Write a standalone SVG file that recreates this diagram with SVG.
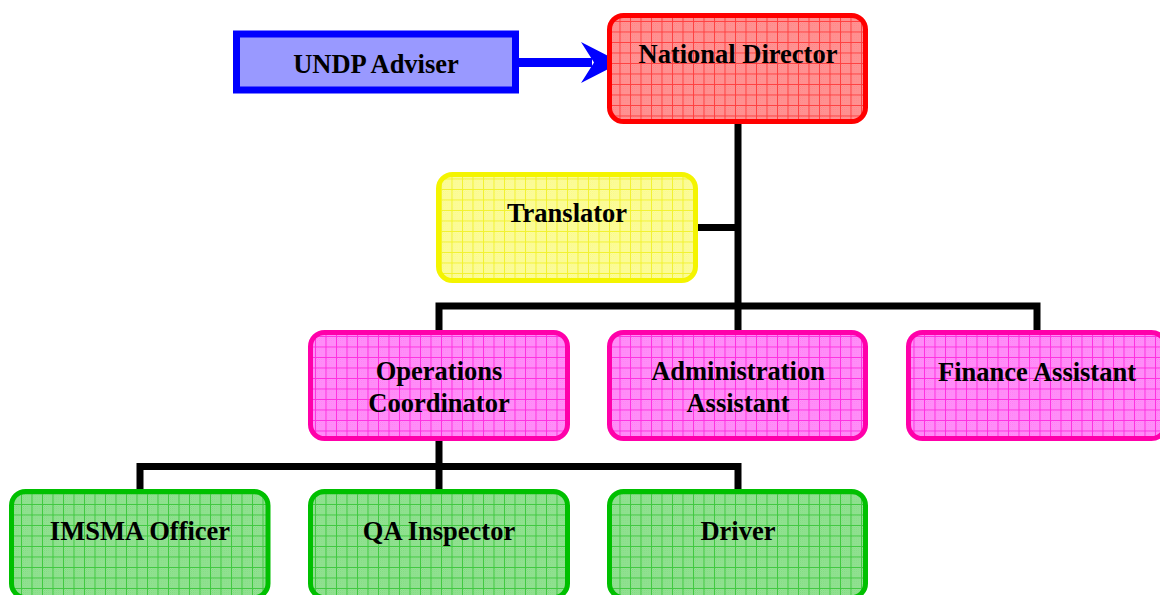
<svg xmlns="http://www.w3.org/2000/svg" width="1160" height="595" viewBox="0 0 1160 595">
<style>
.box{stroke-width:5}
.t{font-family:"Liberation Serif","Times New Roman",serif;font-weight:bold;font-size:26.5px;fill:#000;text-anchor:middle}
.c{stroke:#000;stroke-width:7;fill:none;stroke-linecap:square}
</style>
<defs>
<pattern id="dr" width="2" height="2" patternUnits="userSpaceOnUse"><rect width="2" height="2" fill="#ffa8a8"/><rect width="1" height="1" fill="#ff7878"/><rect x="1" y="1" width="1" height="1" fill="#ff7878"/></pattern>
<pattern id="dy" width="2" height="2" patternUnits="userSpaceOnUse"><rect width="2" height="2" fill="#ffffb4"/><rect width="1" height="1" fill="#f8f878"/><rect x="1" y="1" width="1" height="1" fill="#f8f878"/></pattern>
<pattern id="dm" width="2" height="2" patternUnits="userSpaceOnUse"><rect width="2" height="2" fill="#ffa8ff"/><rect width="1" height="1" fill="#ff70f0"/><rect x="1" y="1" width="1" height="1" fill="#ff70f0"/></pattern>
<pattern id="dg" width="2" height="2" patternUnits="userSpaceOnUse"><rect width="2" height="2" fill="#acecac"/><rect width="1" height="1" fill="#70d470"/><rect x="1" y="1" width="1" height="1" fill="#70d470"/></pattern>
<pattern id="pr" width="10.5" height="10.5" patternUnits="userSpaceOnUse"><rect width="10.5" height="10.5" fill="url(#dr)"/><path d="M0 0.5H10.5M0.5 0V10.5" stroke="#ff4040" stroke-width="1"/></pattern>
<pattern id="py" width="10.5" height="10.5" patternUnits="userSpaceOnUse"><rect width="10.5" height="10.5" fill="url(#dy)"/><path d="M0 0.5H10.5M0.5 0V10.5" stroke="#f2f230" stroke-width="1"/></pattern>
<pattern id="pm" width="10.5" height="10.5" patternUnits="userSpaceOnUse"><rect width="10.5" height="10.5" fill="url(#dm)"/><path d="M0 0.5H10.5M0.5 0V10.5" stroke="#ff30e0" stroke-width="1"/></pattern>
<pattern id="pg" width="10.5" height="10.5" patternUnits="userSpaceOnUse"><rect width="10.5" height="10.5" fill="url(#dg)"/><path d="M0 0.5H10.5M0.5 0V10.5" stroke="#40c840" stroke-width="1"/></pattern>
</defs>

<g id="connectors">
<path class="c" d="M738 124V306M698 227.5H738M439 306H1037M439 306V330M738 306V330M1037 306V330"/>
<path class="c" d="M439 441V466.5M140 466.5H738M140 466.5V489M439 466.5V489M738 466.5V489"/>
<path d="M519 62.5H592" stroke="#0000ff" stroke-width="9" fill="none"/>
<polygon points="621,62.5 581,42 594,62.5 581,83" fill="#0000ff"/>
</g>

<g id="undp-adviser">
<rect x="236.5" y="34" width="279" height="56" fill="#9999ff" stroke="#0000ff" stroke-width="7"/>
<text class="t" x="376" y="73.3">UNDP Adviser</text>
</g>

<g id="national-director">
<rect class="box" x="609.5" y="15.5" width="256" height="106" rx="14" fill="url(#pr)" stroke="#ff0000"/>
<text class="t" x="738" y="62.7">National Director</text>
</g>

<g id="translator">
<rect class="box" x="438.5" y="174.5" width="257" height="106" rx="14" fill="url(#py)" stroke="#f4f400"/>
<text class="t" x="567" y="221.7">Translator</text>
</g>

<g id="operations-coordinator">
<rect class="box" x="310.5" y="332.5" width="257" height="106" rx="14" fill="url(#pm)" stroke="#ff00aa"/>
<text class="t" x="439" y="380">Operations</text>
<text class="t" x="439" y="411.7">Coordinator</text>
</g>

<g id="administration-assistant">
<rect class="box" x="609.5" y="332.5" width="256" height="106" rx="14" fill="url(#pm)" stroke="#ff00aa"/>
<text class="t" x="738" y="380">Administration</text>
<text class="t" x="738" y="411.7">Assistant</text>
</g>

<g id="finance-assistant">
<rect class="box" x="908.5" y="332.5" width="257" height="106" rx="14" fill="url(#pm)" stroke="#ff00aa"/>
<text class="t" x="1037" y="381">Finance Assistant</text>
</g>

<g id="imsma-officer">
<rect class="box" x="11.5" y="491.5" width="256.5" height="106" rx="14" fill="url(#pg)" stroke="#00c000"/>
<text class="t" x="140" y="540">IMSMA Officer</text>
</g>

<g id="qa-inspector">
<rect class="box" x="310.5" y="491.5" width="257" height="106" rx="14" fill="url(#pg)" stroke="#00c000"/>
<text class="t" x="439" y="540">QA Inspector</text>
</g>

<g id="driver">
<rect class="box" x="609.5" y="491.5" width="256" height="106" rx="14" fill="url(#pg)" stroke="#00c000"/>
<text class="t" x="738" y="540">Driver</text>
</g>
</svg>
